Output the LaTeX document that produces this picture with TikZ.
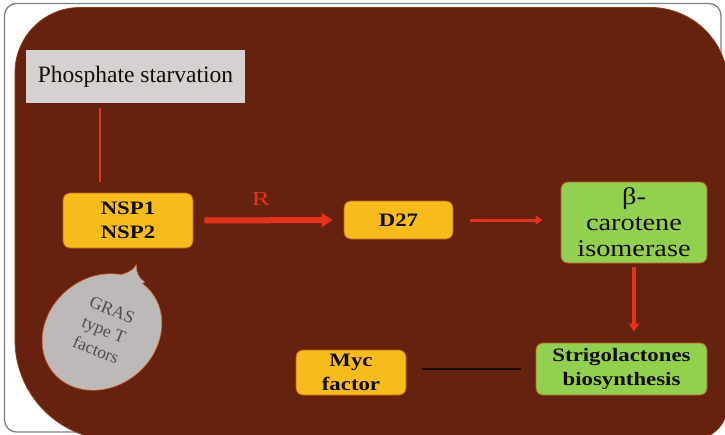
\documentclass[tikz,border=0pt]{standalone}
\usepackage{fontspec}
\setmainfont{Liberation Serif}
\newfontfamily\boxbold[FakeStretch=1.2]{Liberation Serif Bold}
\newfontfamily\boxreg[FakeStretch=1.18]{Liberation Serif}
\newfontfamily\labelfont[FakeStretch=1.35]{Liberation Serif}
\usetikzlibrary{arrows.meta}

\definecolor{bgbrown}{RGB}{101,35,15}
\definecolor{edgebrown}{RGB}{150,62,30}
\definecolor{boxorange}{RGB}{246,188,28}
\definecolor{boxgreen}{RGB}{146,208,80}
\definecolor{boxgray}{RGB}{214,209,209}
\definecolor{bubblegray}{RGB}{190,185,185}
\definecolor{bubbleedge}{RGB}{196,96,50}
\definecolor{arrowred}{RGB}{228,50,30}
\definecolor{boxedge}{RGB}{196,92,40}
\definecolor{framegray}{RGB}{128,128,128}
\definecolor{inkblack}{RGB}{20,12,8}
\definecolor{bubbletextgray}{RGB}{78,76,76}

\begin{document}
\begin{tikzpicture}[x=1pt,y=-1pt,
  box/.style={rounded corners=7pt, draw=boxedge, line width=0.8pt,
    inner sep=0pt, align=center, text=inkblack},
  orangebox/.style={box, fill=boxorange},
  greenbox/.style={box, fill=boxgreen},
  graybox/.style={fill=boxgray, inner sep=0pt, text=inkblack,
    font=\fontsize{23.5}{27}\selectfont},
  boldtext/.style={font=\boxbold\fontsize{19}{24}\selectfont},
  regtext/.style={font=\boxreg\fontsize{24}{26}\selectfont},
  redline/.style={draw=arrowred},
  rlabelstyle/.style={text=arrowred, inner sep=0pt,
    font=\labelfont\fontsize{20}{22}\selectfont},
  bubble/.style={fill=bubblegray, draw=bubbleedge, line width=1.6pt},
  bubbletext/.style={text=bubbletextgray, align=center, inner sep=0pt,
    font=\fontsize{17.5}{21.5}\selectfont}
]
\useasboundingbox (0,0) rectangle (725,434);
\clip (0,0) rectangle (725,434);
\fill[white] (0,0) rectangle (725,434);

% outer frame
\filldraw[fill=white, draw=framegray, line width=1.3pt, rounded corners=12pt]
  (4.5,3.5) rectangle (721,432);

% brown panel
\filldraw[fill=bgbrown, draw=edgebrown, line width=0.8pt]
  (15,340) -- (15,72.5)
  .. controls (15,36.6) and (44.1,7.5) .. (80,7.5)
  -- (650.5,7.5)
  .. controls (693.3,7.5) and (728,42.2) .. (728,85)
  -- (728,404)
  .. controls (728,423.9) and (711.9,440) .. (692,440)
  -- (115,440)
  .. controls (59.8,440) and (15,395.2) .. (15,340) -- cycle;

% GRAS speech bubble: outline first, then the fill again to merge body and tail
\filldraw[bubble, rotate around={40:(102,332)}] (102,332) ellipse [x radius=63, y radius=54];
\filldraw[bubble] (117,276) .. controls (127,274) and (133,271) .. (136,266)
  .. controls (136,272) and (138,278) .. (144,282) -- (130,292) -- cycle;
\fill[bubblegray, rotate around={40:(102,332)}] (102,332) ellipse [x radius=63, y radius=54];
\fill[bubblegray] (117,276) .. controls (127,274) and (133,271) .. (136,266)
  .. controls (136,272) and (138,278) .. (144,282) -- (130,292) -- cycle;
\node[bubbletext, rotate=-22] (gras) at (104,330) {GRAS\\type T\\factors};

% boxes
\node[graybox, minimum width=219pt, minimum height=53pt] (phos) at (135.5,76.5)
  {Phosphate starvation};
\node[orangebox, boldtext, minimum width=130pt, minimum height=55pt] (nsp) at (128,220.5)
  {NSP1\\NSP2};
\node[orangebox, boldtext, minimum width=109pt, minimum height=38pt] (d27) at (398.5,220)
  {D27};
\node[greenbox, regtext, minimum width=146pt, minimum height=81pt] (beta) at (634,222.5)
  {β-\\carotene\\isomerase};
\node[greenbox, boldtext, minimum width=171pt, minimum height=52pt] (sl) at (621.5,369)
  {Strigolactones\\biosynthesis};
\node[orangebox, boldtext, minimum width=110pt, minimum height=45pt] (myc) at (351,372.5)
  {Myc\\factor};

% connectors
\draw[redline, line width=2.8pt]
  ([xshift=-35.5pt,yshift=-5pt]phos.south) -- ([xshift=-28pt,yshift=11pt]nsp.north);
\draw[redline, line width=6pt, -{Triangle[length=11pt,width=14pt]},
  shorten <=11pt, shorten >=11pt]
  (nsp.east) -- node[pos=0.45, above=12pt, rlabelstyle] (rlab) {R} (d27.west);
\draw[redline, line width=3pt, -{Triangle[length=7pt,width=9pt]},
  shorten <=17pt, shorten >=18pt]
  (d27.east) -- (d27.east -| beta.west);
\draw[redline, line width=4pt, -{Triangle[length=8pt,width=10pt]},
  shorten <=4pt, shorten >=11pt]
  (beta.south) -- (beta.south |- sl.north);
\draw[inkblack, line width=2.5pt, shorten <=16pt, shorten >=15pt]
  (sl.west -| myc.east) -- (sl.west);
\end{tikzpicture}
\end{document}
